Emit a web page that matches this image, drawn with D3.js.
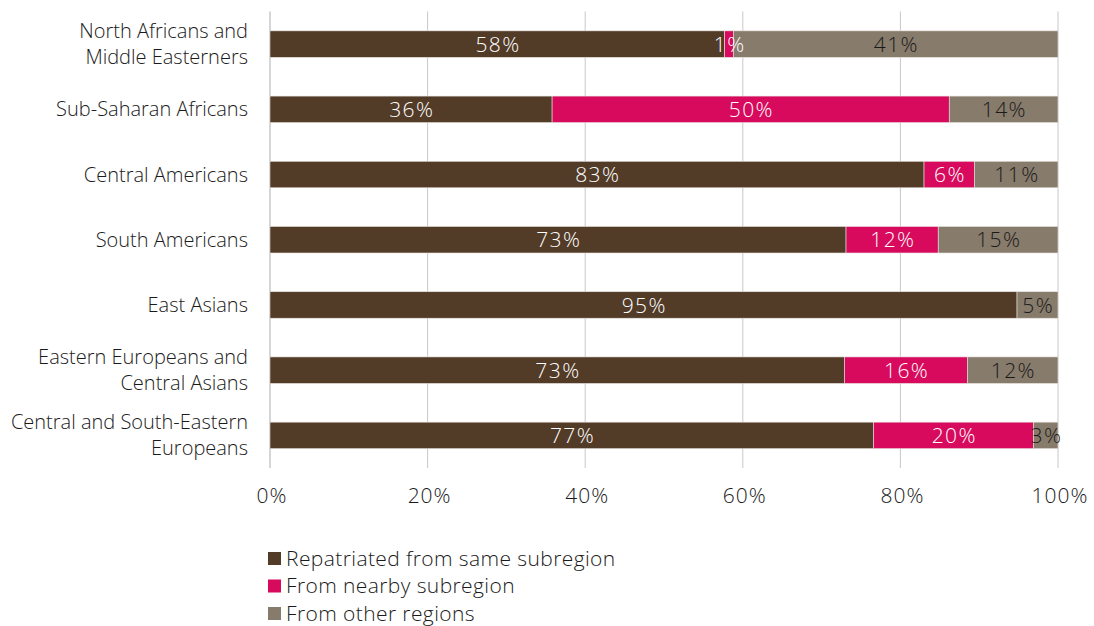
<!DOCTYPE html>
<html>
  <head>
    <meta charset="utf-8">
    <title>Repatriation by subregion</title>
    <script src="https://d3js.org/d3.v7.min.js"></script>
    <style>
      body {
        margin: 0;
        background-color: white;
      }

      svg text {
        font-family: "Open Sans", sans-serif;
        font-weight: 350;
        fill: #1a1a1a;
      }

      .grid line {
        stroke: #c8c8c8;
        stroke-width: 1px;
      }

      .bar {
        stroke: #e6e2dc;
        stroke-width: 0.6px;
      }

      text.category {
        font-size: 20px;
        letter-spacing: 0px;
      }

      text.tick {
        font-size: 21px;
        letter-spacing: 1px;
      }

      text.value {
        font-size: 21px;
        letter-spacing: 1.4px;
      }

      text.legend {
        font-size: 21px;
        letter-spacing: 0.4px;
      }
    </style>
  </head>
  <body>
    <svg></svg>

    <script>
      // data
      var categories = [
        "North Africans and\nMiddle Easterners",
        "Sub-Saharan Africans",
        "Central Americans",
        "South Americans",
        "East Asians",
        "Eastern Europeans and\nCentral Asians",
        "Central and South-Eastern\nEuropeans"
      ];
      var seriesNames = ["Repatriated from same subregion", "From nearby subregion", "From other regions"];
      var sameSubregion   = [57.7, 35.8, 83.0, 73.1, 94.8, 72.9, 76.6];
      var nearbySubregion = [ 1.1, 50.4,  6.4, 11.7,  0.0, 15.6, 20.3];
      var otherRegions    = [41.2, 13.8, 10.6, 15.2,  5.2, 11.5,  3.1];
      var tickValues = [0, 20, 40, 60, 80, 100];

      var colors = ["#523b27", "#d70a5d", "#877b6b"];
      var labelColors = ["#ffffff", "#ffffff", "#1a1a1a"];

      // layout config.
      var svgWidth = 1094,
          svgHeight = 626,
          plotLeft = 270,
          plotRight = 1058,
          plotTop = 11.5,
          plotBottom = 468;

      var svg = d3.select("svg")
        .attr("width", svgWidth)
        .attr("height", svgHeight);

      var x = d3.scaleLinear().domain([0, 100]).range([plotLeft, plotRight]);
      var y = d3.scaleBand()
        .domain(categories)
        .range([plotTop, plotBottom])
        .paddingInner(0.594)
        .paddingOuter(0.297);

      var rows = categories.map(function(c, i) {
        return {name: c, values: [sameSubregion[i], nearbySubregion[i], otherRegions[i]]};
      });

      // gridlines
      svg.append("g")
        .classed("grid", true)
        .selectAll("line")
        .data(tickValues)
        .enter()
          .append("line")
          .attr("x1", function(d){ return x(d); })
          .attr("x2", function(d){ return x(d); })
          .attr("y1", plotTop)
          .attr("y2", plotBottom)
          .style("stroke-width", function(d){ return d === 0 ? "1.5px" : "1px"; });

      // x tick labels
      svg.append("g")
        .selectAll("text")
        .data(tickValues)
        .enter()
          .append("text")
          .classed("tick", true)
          .attr("x", function(d){ return x(d) + 2; })
          .attr("y", 503)
          .attr("text-anchor", "middle")
          .text(function(d){ return d + "%"; });

      // category labels
      var catLabels = svg.append("g")
        .selectAll("text")
        .data(categories)
        .enter()
          .append("text")
          .classed("category", true)
          .attr("text-anchor", "end");

      catLabels.each(function(d) {
        var lines = d.split("\n");
        var cy = y(d) + y.bandwidth()/2;
        var lh = 26;
        var t = d3.select(this);
        lines.forEach(function(line, k) {
          t.append("tspan")
            .attr("x", 248)
            .attr("y", cy + (k - (lines.length - 1)/2)*lh)
            .attr("dy", "0.35em")
            .text(line);
        });
      });

      // bars
      var rowGroups = svg.append("g")
        .selectAll("g")
        .data(rows)
        .enter()
          .append("g");

      rowGroups.each(function(row) {
        var g = d3.select(this);
        var start = 0;
        row.values.forEach(function(v, s) {
          var x0 = x(start), x1 = x(start + v);
          start += v;
          if (v <= 0) return;
          g.append("rect")
            .classed("bar", true)
            .attr("x", x0)
            .attr("y", y(row.name))
            .attr("width", x1 - x0)
            .attr("height", y.bandwidth())
            .style("fill", colors[s]);
        });
        start = 0;
        row.values.forEach(function(v, s) {
          var x0 = x(start), x1 = x(start + v);
          start += v;
          if (v <= 0) return;
          g.append("text")
            .classed("value", true)
            .attr("x", (x0 + x1)/2 + 0.7)
            .attr("y", y(row.name) + y.bandwidth()/2)
            .attr("dy", "0.36em")
            .attr("text-anchor", "middle")
            .style("fill", labelColors[s])
            .text(Math.round(v) + "%");
        });
      });

      // legend
      var legend = svg.append("g")
        .selectAll("g")
        .data(seriesNames)
        .enter()
          .append("g")
          .attr("transform", function(d, i){ return "translate(" + [268, 558.5 + i*27.5] + ")"; });

      legend.append("rect")
        .attr("x", 0)
        .attr("y", -6.5)
        .attr("width", 13)
        .attr("height", 13)
        .style("fill", function(d, i){ return colors[i]; });

      legend.append("text")
        .classed("legend", true)
        .attr("x", 18)
        .attr("y", 0)
        .attr("dy", "0.35em")
        .text(function(d){ return d; });
    </script>
  </body>
</html>
